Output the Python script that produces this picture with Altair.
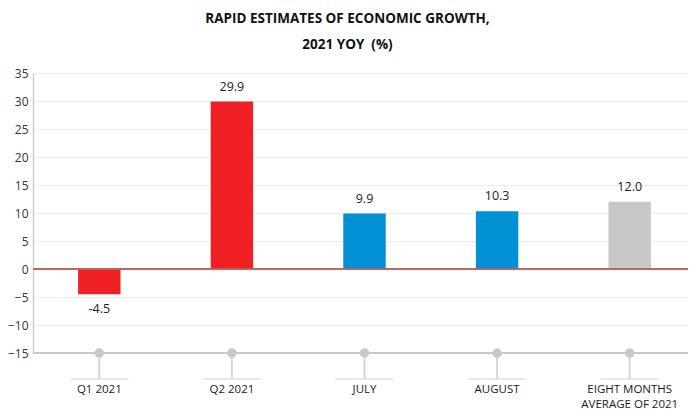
import altair as alt
import pandas as pd

categories = ["Q1 2021", "Q2 2021", "JULY", "AUGUST", "EIGHT MONTHS|AVERAGE OF 2021"]
values = [-4.5, 29.9, 9.9, 10.3, 12.0]
groups = ["quarter", "quarter", "month", "month", "average"]
group_colors = ["#EE2024", "#0091D5", "#C8C8C9"]
group_names = ["quarter", "month", "average"]
y_ticks = [-15, -10, -5, 0, 5, 10, 15, 20, 25, 30, 35]

df = pd.DataFrame({"cat": categories, "val": values, "grp": groups})
df["label"] = df["val"].map(lambda v: f"{v:.1f}")

FONT = "Open Sans"
W, H = 655, 280      # view size (svg must fit in 680px)
XR = 663             # x band range, reaches the window edge like the reference

x_scale = alt.Scale(paddingInner=0.68, paddingOuter=0.34, range=[0, XR])
x_axis = alt.Axis(title=None, domain=False, ticks=False, labelPadding=30,
                  labelExpr="split(datum.value, '|')", labelAngle=0,
                  labelFont=FONT, labelFontSize=11.5, labelColor="#1a1a1a",
                  labelLineHeight=15)
x = alt.X("cat:N", sort=categories, scale=x_scale, axis=x_axis)

y_scale = alt.Scale(domain=[-15, 35], nice=False)
y_axis = alt.Axis(title=None, values=y_ticks, grid=True, tickCount=11,
                  gridColor="#EBEBEB", domainColor="#D0D0D0", domainWidth=1.5,
                  ticks=False, labelPadding=5, labelFont=FONT, labelOverlap=False,
                  labelFontSize=12, labelColor="#333")
y = alt.Y("val:Q", scale=y_scale, axis=y_axis)

base = alt.Chart(df)

bars = base.mark_bar().encode(
    x=x, y=y,
    color=alt.Color("grp:N", scale=alt.Scale(domain=group_names, range=group_colors),
                    legend=None),
)

zero = base.mark_rule(color="#C0605E", strokeWidth=1).encode(
    y=alt.datum(0, scale=y_scale, axis=y_axis), x=alt.value(0), x2=alt.value(W)
)

bottom = base.mark_rule(color="#C8C8C8", strokeWidth=1.5).encode(
    y=alt.value(H), x=alt.value(0), x2=alt.value(W)
)

stems = base.mark_rule(color="#D6D6D6", strokeWidth=2).encode(
    x=x, y=alt.value(H), y2=alt.value(H + 26)
)

feet = base.mark_tick(orient="horizontal", size=58, thickness=2, color="#E0E0E0").encode(
    x=x, y=alt.value(H + 26)
)

dots = base.mark_point(filled=True, size=90, color="#C8C8C9", opacity=1).encode(
    x=x, y=alt.value(H)
)

pos_labels = base.transform_filter("datum.val >= 0").mark_text(
    dy=-15, font=FONT, fontSize=12.5, color="#222"
).encode(x=x, y=y, text="label:N")

neg_labels = base.transform_filter("datum.val < 0").mark_text(
    dy=15, font=FONT, fontSize=12.5, color="#222"
).encode(x=x, y=y, text="label:N")

chart = alt.layer(bars, zero, bottom, stems, feet, dots, pos_labels, neg_labels).properties(
    width=W, height=H,
    autosize=alt.AutoSizeParams(type="none"),
    padding={"left": 25, "top": 65, "right": 0, "bottom": 58},
    title=alt.TitleParams(["RAPID ESTIMATES OF ECONOMIC GROWTH,", "2021 YOY\u00a0\u00a0(%)"],
                          font=FONT, fontSize=13.5, fontWeight="bold", color="#111",
                          lineHeight=26, anchor="middle", dx=-13, offset=16),
).configure_view(stroke=None)

chart.save("out.html", embed_options={"renderer": "svg", "actions": False})
